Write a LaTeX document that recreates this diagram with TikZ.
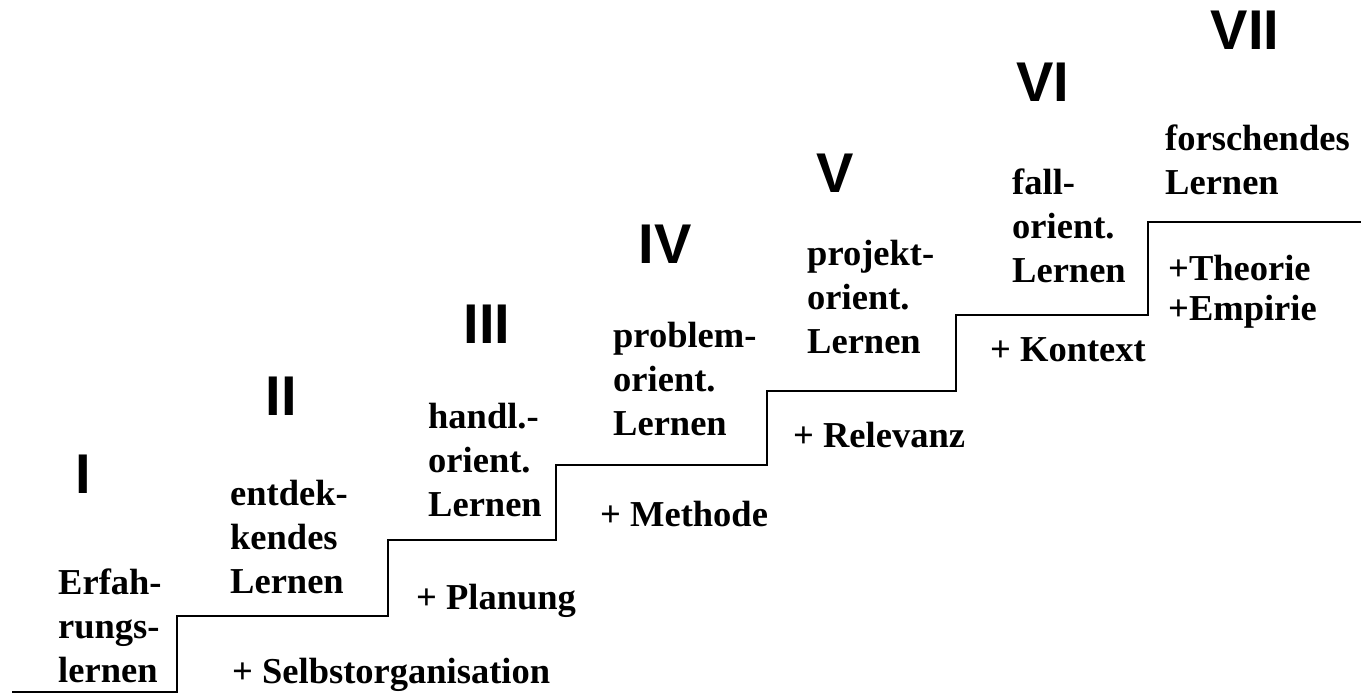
\documentclass[tikz,border=0pt]{standalone}
\usepackage{fontspec}
\setmainfont{Liberation Serif}
\newfontfamily\numfont{Liberation Sans}
\begin{document}
\begin{tikzpicture}[x=1pt,y=-1pt,
  lbl/.style={anchor=base west,inner sep=0pt,align=left,font=\bfseries\fontsize{36.5}{44}\selectfont},
  plus/.style={anchor=base west,inner sep=0pt,align=left,font=\bfseries\fontsize{36.5}{40}\selectfont},
  num/.style={anchor=base,inner sep=0pt,font=\numfont\bfseries\fontsize{56}{60}\selectfont},
  stair/.style={draw=black,line width=2pt}]
\useasboundingbox[fill=white] (0,0) rectangle (1361,695);
% staircase corners
\coordinate (s0) at (12,692);
\coordinate (s1) at (177,692);
\coordinate (s2) at (177,616);
\coordinate (s3) at (388,616);
\coordinate (s4) at (388,540);
\coordinate (s5) at (556,540);
\coordinate (s6) at (556,465);
\coordinate (s7) at (767,465);
\coordinate (s8) at (767,391);
\coordinate (s9) at (956,391);
\coordinate (s10) at (956,315);
\coordinate (s11) at (1148,315);
\coordinate (s12) at (1148,222);
\coordinate (s13) at (1361,222);
\draw[stair] (s0) -- (s1) -- (s2) -- (s3) -- (s4) -- (s5) -- (s6) -- (s7) -- (s8) -- (s9) -- (s10) -- (s11) -- (s12) -- (s13);
% numerals
\node[num] (n1) at (83,493) {I};
\node[num] (n2) at (281,415) {II};
\node[num] (n3) at (487,344) {III};
\node[num] (n4) at (665,264) {IV};
\node[num] (n5) at (835,193) {V};
\node[num] (n6) at (1043,102) {VI};
\node[num] (n7) at (1245,50) {VII};
% labels (anchor = baseline of last line)
\node[lbl] (l1) at (58,682) {Erfah-\\rungs-\\lernen};
\node[lbl] (l2) at (230,593) {entdek-\\kendes\\Lernen};
\node[lbl] (l3) at (428,516) {handl.-\\orient.\\Lernen};
\node[lbl] (l4) at (613,435) {problem-\\orient.\\Lernen};
\node[lbl] (l5) at (807,353) {projekt-\\orient.\\Lernen};
\node[lbl] (l6) at (1012,283) {fall-\\orient.\\Lernen};
\node[lbl] (l7) at (1165,195) {forschendes\\Lernen};
% additions
\node[plus] (p1) at (232,683) {+ Selbstorganisation};
\node[plus] (p2) at (416,609) {+ Planung};
\node[plus] (p3) at (600,526) {+ Methode};
\node[plus] (p4) at (793,447) {+ Relevanz};
\node[plus] (p5) at (990,361) {+ Kontext};
\node[plus] (p6) at (1168,320) {+Theorie\\+Empirie};
\end{tikzpicture}
\end{document}
